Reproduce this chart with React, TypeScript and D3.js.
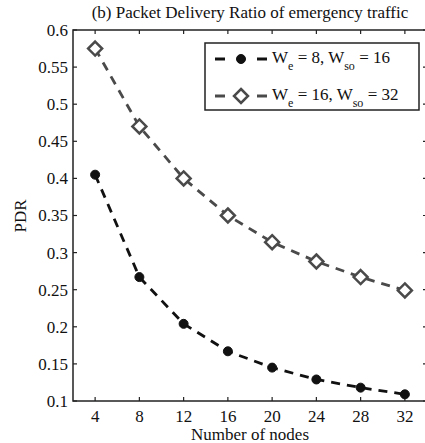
import React, { useRef, useEffect } from 'react';
import * as d3 from 'd3';

const nodes = [4, 8, 12, 16, 20, 24, 28, 32];
const pdrWe8 = [0.405, 0.267, 0.204, 0.167, 0.145, 0.129, 0.118, 0.109];
const pdrWe16 = [0.575, 0.47, 0.4, 0.35, 0.314, 0.288, 0.267, 0.249];
const yTicks = [0.1, 0.15, 0.2, 0.25, 0.3, 0.35, 0.4, 0.45, 0.5, 0.55, 0.6];

const series = [
  { label: { we: '8', wso: '16' }, values: pdrWe8, color: '#111111', marker: 'circle' },
  { label: { we: '16', wso: '32' }, values: pdrWe16, color: '#4a4a4a', marker: 'diamond' }
];

const FONT = '"Liberation Serif", "Times New Roman", serif';

const App: React.FC = () => {
  const svgRef = useRef<SVGSVGElement>(null);
  const width = 425;
  const height = 443;

  useEffect(() => {
    if (!svgRef.current) return;
    const svg = d3.select(svgRef.current);
    svg.selectAll('*').remove();

    const x = d3.scaleLinear().domain([2, 34]).range([73, 427]);
    const y = d3.scaleLinear().domain([0.1, 0.6]).range([401, 30]);
    const [x0, x1] = x.range();
    const [y0, y1] = y.range();
    const tickLen = 4;
    const axisColor = '#222';

    // Title
    svg.append('text')
      .attr('x', (x0 + x1) / 2)
      .attr('y', 18)
      .attr('text-anchor', 'middle')
      .style('font-family', FONT)
      .style('font-size', '17px')
      .style('fill', '#111')
      .text('(b) Packet Delivery Ratio of emergency traffic');

    // Frame
    svg.append('rect')
      .attr('x', x0)
      .attr('y', y1)
      .attr('width', x1 - x0)
      .attr('height', y0 - y1)
      .style('fill', 'none')
      .style('stroke', axisColor)
      .style('stroke-width', 1.5);

    // Inward ticks
    const ticksG = svg.append('g').style('stroke', axisColor).style('stroke-width', 1.2);
    nodes.forEach(n => {
      ticksG.append('line').attr('x1', x(n)).attr('x2', x(n)).attr('y1', y0).attr('y2', y0 - tickLen);
      ticksG.append('line').attr('x1', x(n)).attr('x2', x(n)).attr('y1', y1).attr('y2', y1 + tickLen);
    });
    yTicks.forEach(t => {
      ticksG.append('line').attr('x1', x0).attr('x2', x0 + tickLen).attr('y1', y(t)).attr('y2', y(t));
      ticksG.append('line').attr('x1', x1).attr('x2', x1 - tickLen).attr('y1', y(t)).attr('y2', y(t));
    });

    // Tick labels
    svg.append('g')
      .selectAll('text')
      .data(nodes)
      .join('text')
      .attr('x', d => x(d))
      .attr('y', 422)
      .attr('text-anchor', 'middle')
      .style('font-family', FONT)
      .style('font-size', '17px')
      .style('fill', '#111')
      .text(d => String(d));

    svg.append('g')
      .selectAll('text')
      .data(yTicks)
      .join('text')
      .attr('x', 68)
      .attr('y', d => y(d))
      .attr('dy', '0.35em')
      .attr('text-anchor', 'end')
      .style('font-family', FONT)
      .style('font-size', '17px')
      .style('fill', '#111')
      .text(d => String(+d.toFixed(2)));

    // Axis labels
    svg.append('text')
      .attr('x', (x0 + x1) / 2)
      .attr('y', 440)
      .attr('text-anchor', 'middle')
      .style('font-family', FONT)
      .style('font-size', '17px')
      .style('fill', '#111')
      .text('Number of nodes');

    svg.append('text')
      .attr('transform', 'rotate(-90)')
      .attr('x', -216)
      .attr('y', 26)
      .attr('text-anchor', 'middle')
      .style('font-family', FONT)
      .style('font-size', '17px')
      .style('fill', '#111')
      .text('PDR');

    const drawMarker = (g: any, cx: number, cy: number, s: typeof series[number]) => {
      if (s.marker === 'circle') {
        g.append('circle')
          .attr('cx', cx)
          .attr('cy', cy)
          .attr('r', 4.5)
          .style('fill', s.color)
          .style('stroke', s.color)
          .style('stroke-width', 1);
      } else {
        const r = 7;
        g.append('path')
          .attr('d', `M${cx},${cy - r}L${cx + r},${cy}L${cx},${cy + r}L${cx - r},${cy}Z`)
          .style('fill', 'white')
          .style('stroke', s.color)
          .style('stroke-width', 2.5);
      }
    };

    // Lines + markers
    const line = d3.line<number>()
      .x((_, i) => x(nodes[i]))
      .y(d => y(d));

    series.forEach(s => {
      const g = svg.append('g');
      g.append('path')
        .datum(s.values)
        .attr('d', line)
        .style('fill', 'none')
        .style('stroke', s.color)
        .style('stroke-width', 2.8)
        .style('stroke-dasharray', '9,7');
      s.values.forEach((v, i) => drawMarker(g, x(nodes[i]), y(v), s));
    });

    // Legend
    const lg = svg.append('g');
    lg.append('rect')
      .attr('x', 205)
      .attr('y', 43)
      .attr('width', 214)
      .attr('height', 67)
      .style('fill', 'white')
      .style('stroke', axisColor)
      .style('stroke-width', 1.5);

    series.forEach((s, i) => {
      const cy = 59 + i * 37;
      lg.append('line')
        .attr('x1', 215).attr('x2', 225)
        .attr('y1', cy).attr('y2', cy)
        .style('stroke', s.color).style('stroke-width', 3);
      lg.append('line')
        .attr('x1', 257).attr('x2', 267)
        .attr('y1', cy).attr('y2', cy)
        .style('stroke', s.color).style('stroke-width', 3);
      drawMarker(lg, 241, cy, s);

      const t = lg.append('text')
        .attr('x', 272)
        .attr('y', cy + 4)
        .style('font-family', FONT)
        .style('font-size', '17px')
        .style('fill', '#111');
      t.append('tspan').text('W');
      t.append('tspan').attr('dy', 7).style('font-size', '12px').text('e');
      t.append('tspan').attr('dy', -7).text(` = ${s.label.we}, W`);
      t.append('tspan').attr('dy', 7).style('font-size', '12px').text('so');
      t.append('tspan').attr('dy', -7).text(` = ${s.label.wso}`);
    });
  }, []);

  return (
    <div style={{ position: 'absolute', left: 0, top: 0 }}>
      <svg ref={svgRef} width={width} height={height} style={{ display: 'block', background: 'white' }} />
    </div>
  );
};

export default App;
